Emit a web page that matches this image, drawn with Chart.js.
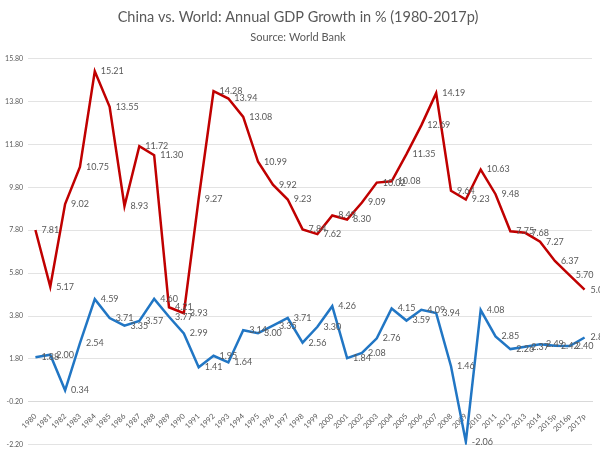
<!DOCTYPE html>
<html>
<head>
<meta charset="utf-8">
<script src="https://cdn.jsdelivr.net/npm/chart.js@4.4.1/dist/chart.umd.min.js"></script>
<style>
  html, body { margin: 0; padding: 0; background: #fff; }
</style>
</head>
<body>
<canvas id="gdpChart" width="600" height="454"></canvas>
<script>
const years = [
  '1980', '1981', '1982', '1983', '1984', '1985', '1986', '1987', '1988', '1989',
  '1990', '1991', '1992', '1993', '1994', '1995', '1996', '1997', '1998', '1999',
  '2000', '2001', '2002', '2003', '2004', '2005', '2006', '2007', '2008', '2009',
  '2010', '2011', '2012', '2013', '2014', '2015p', '2016p', '2017p'
];

// annual GDP growth, %
const china = [
  7.81, 5.17, 9.02, 10.75, 15.21, 13.55, 8.93, 11.72, 11.30, 4.21,
  3.93, 9.27, 14.28, 13.94, 13.08, 10.99, 9.92, 9.23, 7.84, 7.62,
  8.49, 8.30, 9.09, 10.02, 10.08, 11.35, 12.69, 14.19, 9.64, 9.23,
  10.63, 9.48, 7.75, 7.68, 7.27, 6.37, 5.70, 5.03
];
const world = [
  1.88, 2.00, 0.34, 2.54, 4.59, 3.71, 3.35, 3.57, 4.60, 3.77,
  2.99, 1.41, 1.95, 1.64, 3.14, 3.00, 3.35, 3.71, 2.56, 3.30,
  4.26, 1.84, 2.08, 2.76, 4.15, 3.59, 4.09, 3.94, 1.46, -2.06,
  4.08, 2.85, 2.26, 2.37, 2.49, 2.42, 2.40, 2.80
];

const yMin = -2.2;
const yMax = 15.8;
const yStep = 2;
const xAxisCross = -0.2;

const FONT = 'Lato, "Liberation Sans", sans-serif';
const GREY = '#595959';

// small value labels to the right of every point
const valueLabels = {
  id: 'valueLabels',
  afterDatasetsDraw(chart) {
    const ctx = chart.ctx;
    ctx.save();
    ctx.font = '9px ' + FONT;
    ctx.fillStyle = GREY;
    ctx.textAlign = 'left';
    ctx.textBaseline = 'middle';
    chart.data.datasets.forEach((ds, i) => {
      chart.getDatasetMeta(i).data.forEach((pt, j) => {
        ctx.fillText(ds.data[j].toFixed(2), pt.x + 6, pt.y);
      });
    });
    ctx.restore();
  }
};

new Chart(document.getElementById('gdpChart'), {
  type: 'line',
  data: {
    labels: years,
    datasets: [
      {
        label: 'China',
        data: china,
        borderColor: '#C00000',
        borderWidth: 2.5,
        pointRadius: 0,
        tension: 0,
        fill: false,
      },
      {
        label: 'World',
        data: world,
        borderColor: '#2176C4',
        borderWidth: 2.5,
        pointRadius: 0,
        tension: 0,
        fill: false,
      }
    ]
  },
  options: {
    responsive: false,
    animation: false,
    layout: { padding: { top: 2, right: 8, bottom: 5, left: 4 } },
    plugins: {
      legend: { display: false },
      tooltip: { enabled: false },
      title: {
        display: true,
        text: 'China vs. World: Annual GDP Growth in % (1980-2017p)',
        color: GREY,
        font: { size: 14.5, weight: 'normal', family: FONT },
        padding: { top: 7, bottom: 4 },
      },
      subtitle: {
        display: true,
        text: 'Source: World Bank',
        color: GREY,
        font: { size: 11, weight: 'normal', family: FONT },
        padding: { top: 0, bottom: 15 },
      }
    },
    scales: {
      x: {
        type: 'category',
        offset: true,
        position: { y: xAxisCross },
        grid: { display: false },
        border: { display: true, color: '#d9d9d9', width: 1 },
        ticks: {
          color: GREY,
          font: { size: 7.5, family: FONT },
          autoSkip: false,
          maxRotation: 45,
          minRotation: 45,
          padding: 2,
        }
      },
      y: {
        min: yMin,
        max: yMax,
        grid: { color: '#e3e3e3', drawTicks: false },
        border: { display: false },
        afterFit(scale) {
          scale.width = 24;
        },
        ticks: {
          stepSize: yStep,
          color: GREY,
          font: { size: 7, family: FONT },
          padding: 5,
          callback(val) {
            return val.toFixed(2);
          }
        }
      }
    }
  },
  plugins: [valueLabels]
});
</script>
</body>
</html>
